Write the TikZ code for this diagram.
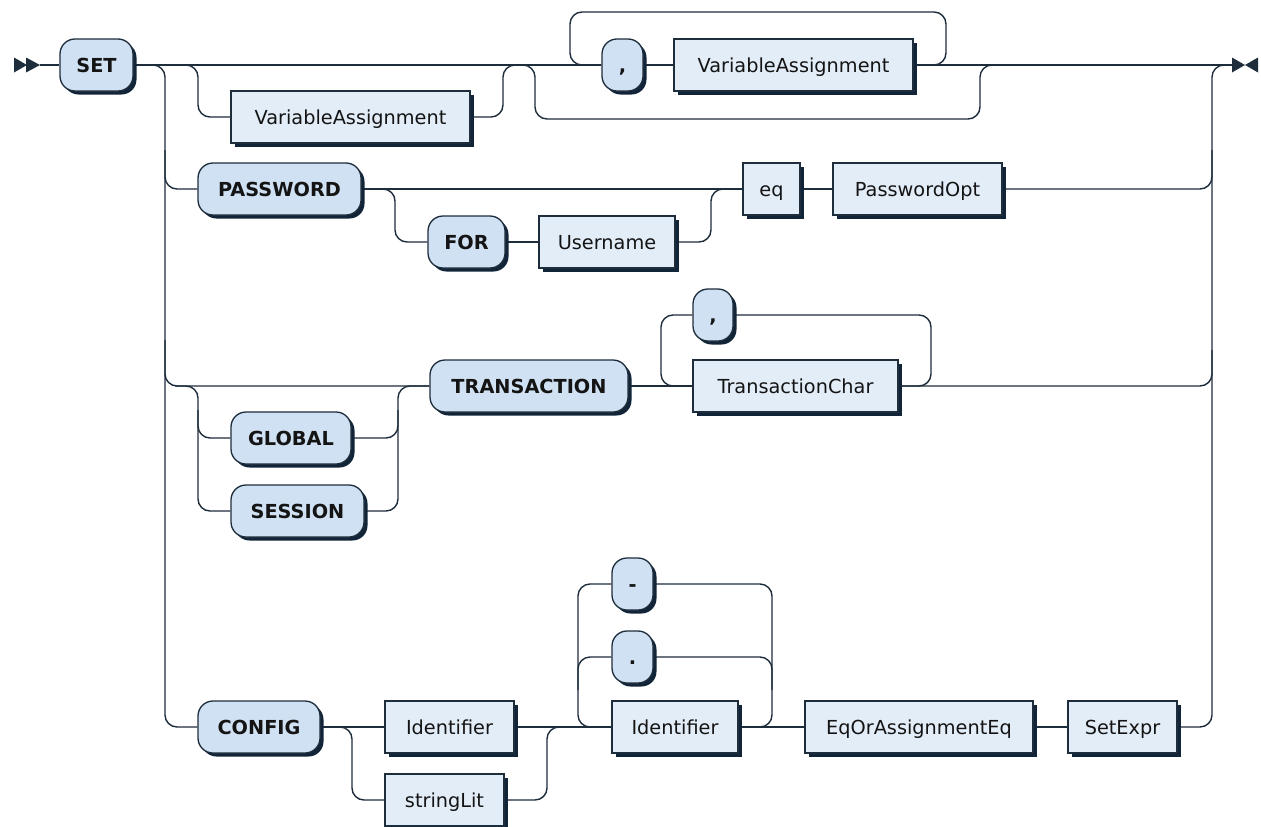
\documentclass[tikz,border=0pt]{standalone}
\usepackage{fontspec}
\setmainfont{DejaVu Sans}
\usetikzlibrary{shadows}
\pgfdeclarelayer{bg}
\pgfsetlayers{bg,main}
\definecolor{linec}{RGB}{30,45,60}
\definecolor{termfill}{RGB}{208,225,243}
\definecolor{ntfill}{RGB}{227,237,248}
\definecolor{shadc}{RGB}{18,36,56}
\definecolor{txtc}{RGB}{20,20,20}
\begin{document}
\begin{tikzpicture}[x=1pt,y=-1pt,
  wire/.style={draw=linec, line width=1.4pt},
  rc/.style={wire, rounded corners=12pt},
  nbox/.style={draw=linec, line width=1.3pt, minimum height=52pt, inner sep=0pt,
    text height=14pt, text depth=0pt, text=txtc,
    drop shadow={shadow xshift=3.5pt, shadow yshift=-3.5pt, opacity=1, fill=shadc}},
  term/.style={nbox, fill=termfill, rounded corners=15pt, font=\fontsize{19.3pt}{23pt}\selectfont\bfseries},
  nt/.style={nbox, fill=ntfill, font=\fontsize{19.3pt}{23pt}\selectfont},
  tri/.style={fill=linec}]
\useasboundingbox (0,0) rectangle (1261,827);

% row 1
\node[term, minimum width=73pt] (set) at (96.5,65) {SET};
\node[nt, minimum width=239pt] (va1) at (350.5,117) {VariableAssignment};
\node[term, minimum width=41pt] (c1) at (622.5,65) {,};
\node[nt, minimum width=239pt] (va2) at (793.5,65) {VariableAssignment};
% row 2
\node[term, minimum width=163pt] (pw) at (279.5,189) {PASSWORD};
\node[term, minimum width=77pt] (for) at (466.5,242) {FOR};
\node[nt, minimum width=136pt] (user) at (607,242) {Username};
\node[nt, minimum width=57pt] (eq) at (771.5,189) {eq};
\node[nt, minimum width=169pt] (pwo) at (917.5,189) {PasswordOpt};
% row 3
\node[term, minimum width=198pt] (tr) at (529,386) {TRANSACTION};
\node[term, minimum width=120pt] (gl) at (291,438) {GLOBAL};
\node[term, minimum width=133pt] (se) at (297.5,511) {SESSION};
\node[term, minimum width=40pt] (c2) at (713,315) {,};
\node[nt, minimum width=205pt] (tc) at (795.5,386) {TransactionChar};
% row 4
\node[term, minimum width=122pt] (cfg) at (259,727) {CONFIG};
\node[nt, minimum width=129pt] (id1) at (449.5,727) {Identifier};
\node[nt, minimum width=119pt] (sl) at (444.5,800) {stringLit};
\node[term, minimum width=41pt] (dash) at (632.5,584) {-};
\node[term, minimum width=41pt] (dot) at (632.5,657) {.};
\node[nt, minimum width=126pt] (id2) at (675,727) {Identifier};
\node[nt, minimum width=228pt] (eqa) at (919,727) {EqOrAssignmentEq};
\node[nt, minimum width=109pt] (sx) at (1122.5,727) {SetExpr};

\coordinate (st) at (40,65);
\coordinate (en) at (1232,65);

% start / end markers
\fill[tri] (14,57.5) -- (27,65) -- (14,72.5) -- cycle;
\fill[tri] (26,57.5) -- (40,65) -- (26,72.5) -- cycle;
\fill[tri] (1232,57.5) -- (1245,65) -- (1232,72.5) -- cycle;
\fill[tri] (1258,57.5) -- (1245,65) -- (1258,72.5) -- cycle;

\begin{pgfonlayer}{bg}
% row 1
\draw[wire] (st) -- (set.west);
\draw[wire] (set.east) -- (c1.west);
\draw[wire] (c1.east) -- (va2.west);
\draw[wire] (va2.east) -- (en);
\draw[rc] (set.east) -- (198,65) |- (va1.west);
\draw[rc] (va1.east) -| (503,65) -- (c1.west);
\draw[rc] (set.east) -- (535,65) -- (535,119) -- (980,119) -- (980,65) -- (en);
\draw[rc] (va2.east) -- (946,65) -- (946,12) -- (570,12) -- (570,65) -- (c1.west);
% left and right verticals
\draw[rc] (set.east) -- (165,65) |- (cfg.west);
\draw[rc] (sx.east) -| (1212,65) -- (en);
% row 2
\draw[rc] (165,150) |- (pw.west);
\draw[wire] (pw.east) -- (eq.west);
\draw[rc] (pw.east) -- (395,189) |- (for.west);
\draw[wire] (for.east) -- (user.west);
\draw[rc] (user.east) -| (711,189) -- (eq.west);
\draw[wire] (eq.east) -- (pwo.west);
\draw[rc] (pwo.east) -| (1212,150);
% row 3
\draw[rc] (165,340) |- (tr.west);
\draw[rc] (175,386) -- (198,386) |- (se.west);
\draw[rc] (198,410) |- (gl.west);
\draw[rc] (se.east) -| (398,386) -- (tr.west);
\draw[rc] (gl.east) -| (398,410);
\draw[wire] (tr.east) -- (tc.west);
\draw[rc] (tc.east) -- (931,386) -- (931,315) -- (c2.east);
\draw[rc] (c2.west) -- (661,315) -- (661,386) -- (tc.west);
\draw[rc] (tc.east) -| (1212,350);
% row 4
\draw[wire] (cfg.east) -- (id1.west);
\draw[rc] (cfg.east) -- (352,727) |- (sl.west);
\draw[rc] (sl.east) -| (547,727) -- (id2.west);
\draw[wire] (id1.east) -- (id2.west);
\draw[rc] (dash.west) -- (578,584) -- (578,727) -- (id2.west);
\draw[rc] (dot.west) -- (578,657) -- (578,690);
\draw[rc] (dash.east) -- (772,584) -- (772,727) -- (id2.east);
\draw[rc] (dot.east) -- (772,657) -- (772,690);
\draw[wire] (id2.east) -- (eqa.west);
\draw[wire] (eqa.east) -- (sx.west);
\end{pgfonlayer}
\end{tikzpicture}
\end{document}
